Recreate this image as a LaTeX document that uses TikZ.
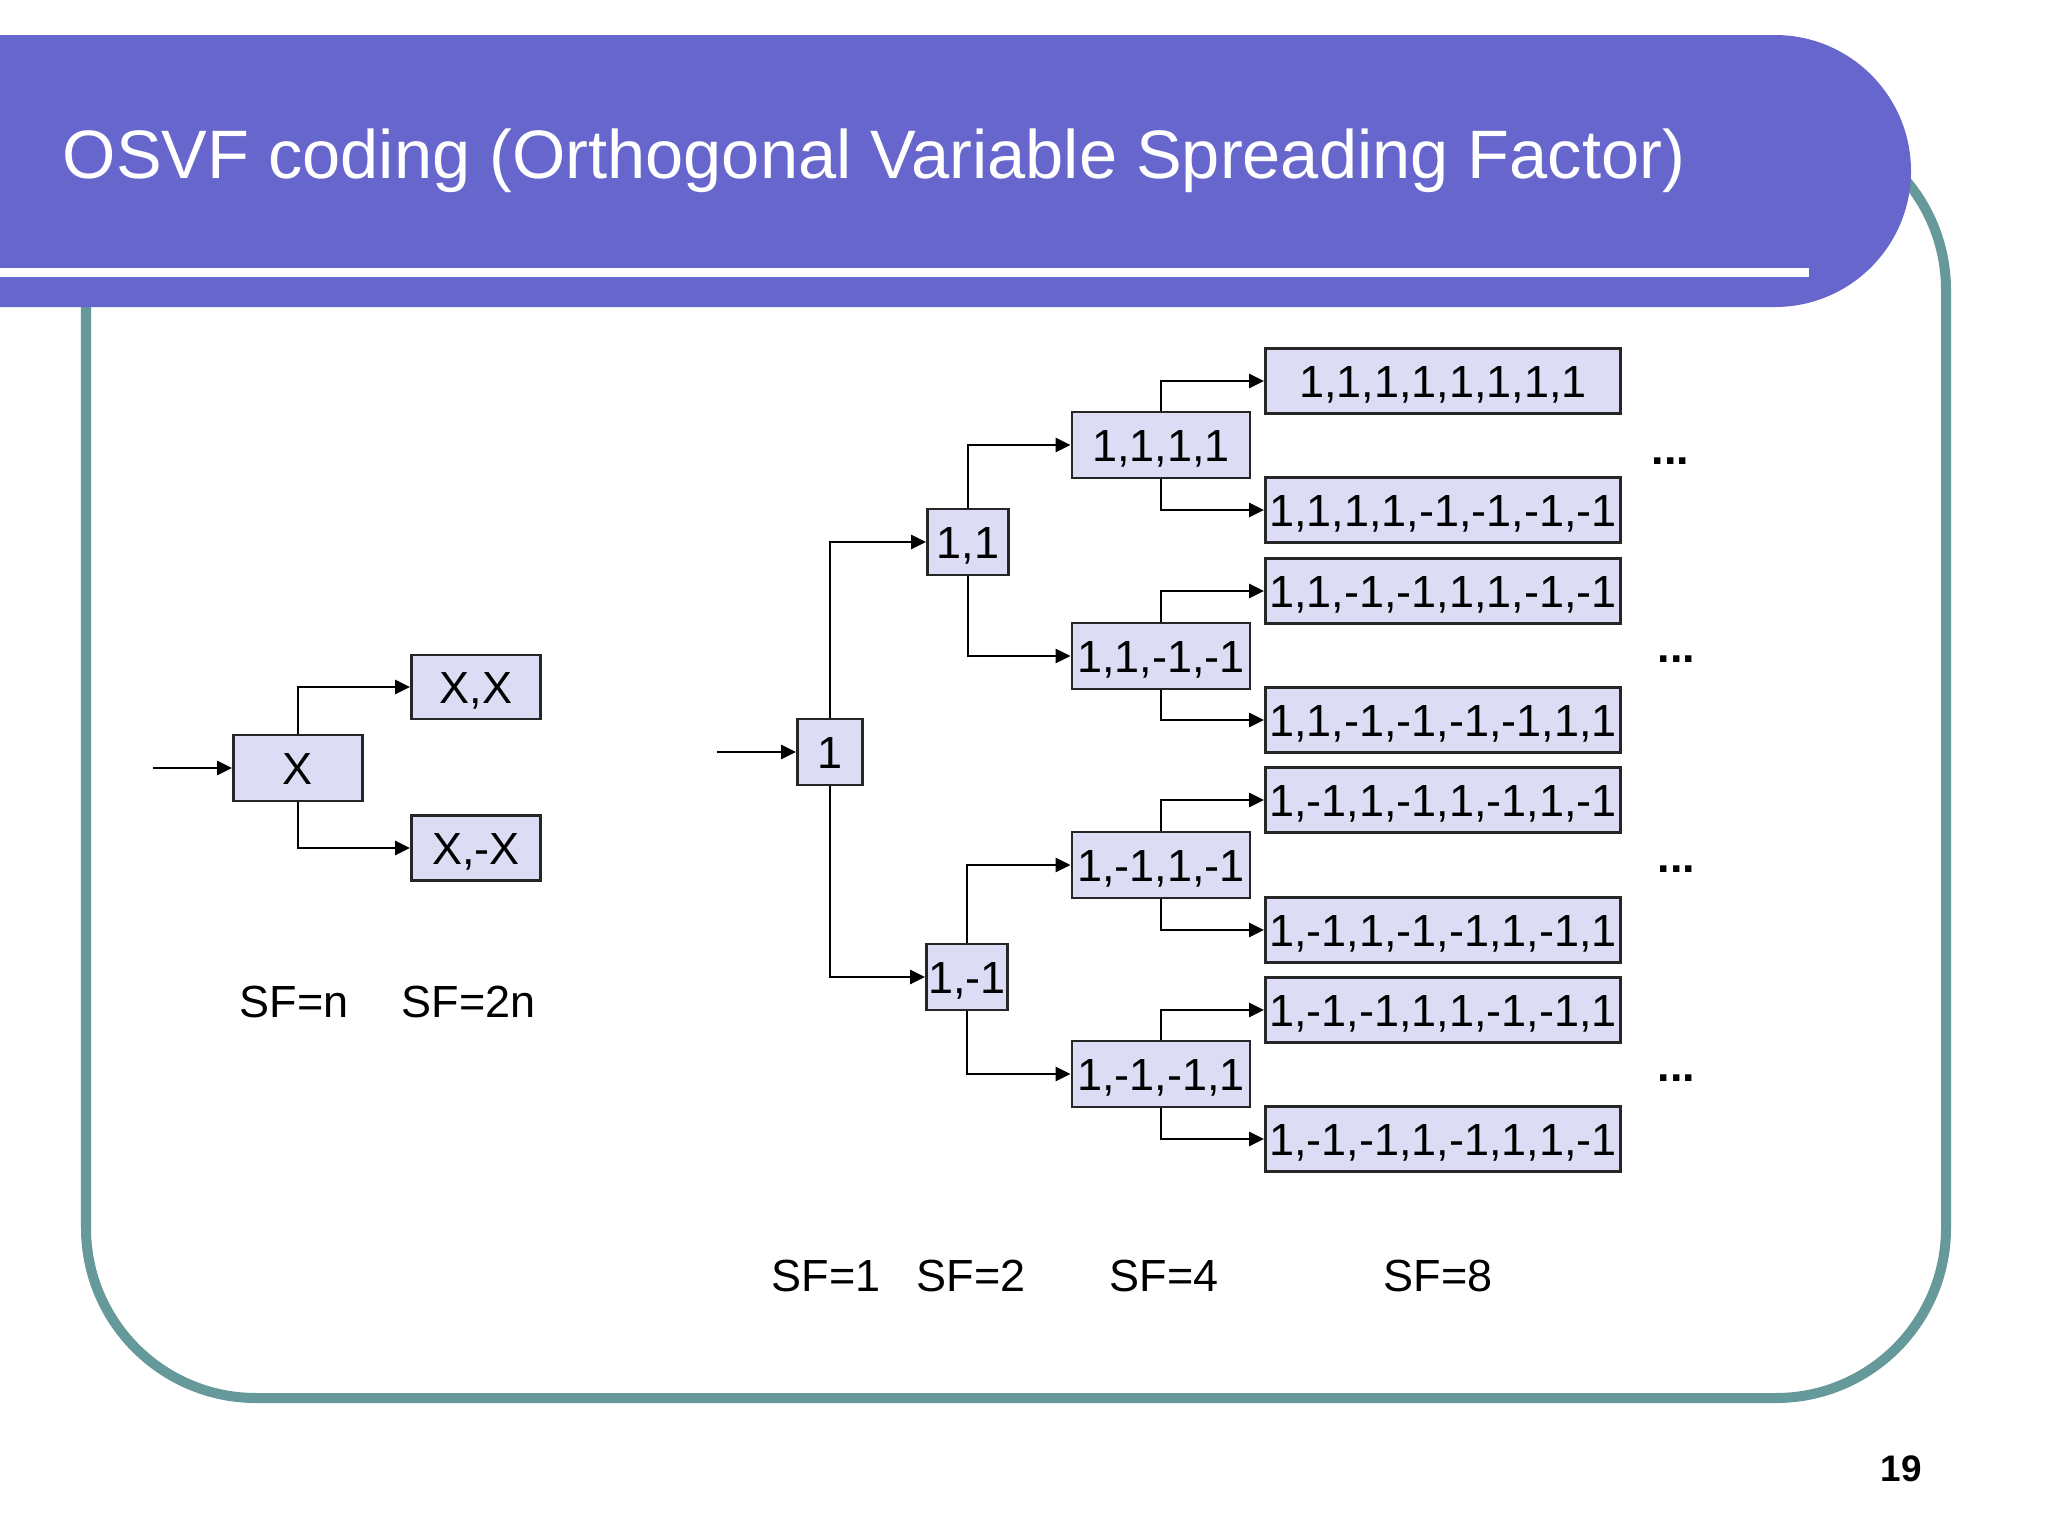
\documentclass[tikz,border=0pt]{standalone}
\usepackage{fontspec}
\setmainfont{Liberation Sans}
\usetikzlibrary{arrows.meta}
\definecolor{titlebar}{RGB}{102,102,204}
\definecolor{framegreen}{RGB}{102,153,153}
\definecolor{boxfill}{RGB}{220,220,245}
\tikzset{
  codebox/.style={draw=black!85, fill=boxfill, line width=0.028cm, inner sep=0pt,
    minimum height=0.66cm, text height=0.32cm, text depth=0cm,
    font=\fontsize{12.8}{15}\selectfont},
  sfone/.style={codebox, minimum width=0.65cm},
  sftwo/.style={codebox, minimum width=0.81cm},
  sffour/.style={codebox, minimum width=1.78cm},
  sfeight/.style={codebox, minimum width=3.55cm, minimum height=0.65cm},
  genbox/.style={codebox, minimum width=1.29cm},
  branch/.style={-{Triangle[length=0.15cm,width=0.14cm]}, line width=0.028cm},
  sflabel/.style={anchor=base west, inner sep=0pt, font=\fontsize{12.8}{15}\selectfont},
  more/.style={anchor=base west, inner sep=0pt, font=\fontsize{12.8}{15}\selectfont\bfseries}
}
\begin{document}
\begin{tikzpicture}[x=0.01cm, y=-0.01cm]
        \useasboundingbox (0,0) rectangle (2048,1536);
        \clip (0,0) rectangle (2048,1536);
        \fill[white] (0,0) rectangle (2048,1536);
        % Slide frame and title bar
        \draw[framegreen, line width=0.1cm, rounded corners=1.7cm] (86,120) rectangle (1946,1398);
        \fill[titlebar, rounded corners=1.36cm] (-300,35) rectangle (1911,307);
        \fill[white] (0,268) rectangle (1809,277);
        \node[anchor=base west, inner sep=0pt, text=white, font=\fontsize{19.5}{23}\selectfont]
            (title) at (62,178) {OSVF coding (Orthogonal Variable Spreading Factor)};
        % Generic rule X -> (X,X) and (X,-X)
        \coordinate (inx) at (153,768);
        \node[genbox] (x) at (298,768) {X};
        \node[genbox, minimum height=0.64cm] (xx) at (476,687) {X,X};
        \node[genbox, minimum height=0.65cm] (xmx) at (476,848) {X,-X};
        \draw[branch] (inx) -- (x.west);
        \draw[branch] (x.north) |- (xx.west);
        \draw[branch] (x.south) |- (xmx.west);
        \node[sflabel] (sfn) at (239,1017) {SF=n};
        \node[sflabel] (sftwon) at (401,1017) {SF=2n};
        % Code tree
        \coordinate (inroot) at (717,752);
        \node[sfone] (c1) at (830,752) {1};
        \node[sftwo] (c11) at (968,542) {1,1};
        \node[sftwo] (c1m) at (967,977) {1,-1};
        \node[sffour] (c1111) at (1161,445) {1,1,1,1};
        \node[sffour] (c11mm) at (1161,656) {1,1,-1,-1};
        \node[sffour] (c1m1m) at (1161,865) {1,-1,1,-1};
        \node[sffour] (c1mm1) at (1161,1074) {1,-1,-1,1};
        \node[sfeight] (e1) at (1443,381) {1,1,1,1,1,1,1,1};
        \node[sfeight] (e2) at (1443,510) {1,1,1,1,-1,-1,-1,-1};
        \node[sfeight] (e3) at (1443,591) {1,1,-1,-1,1,1,-1,-1};
        \node[sfeight] (e4) at (1443,720) {1,1,-1,-1,-1,-1,1,1};
        \node[sfeight] (e5) at (1443,800) {1,-1,1,-1,1,-1,1,-1};
        \node[sfeight] (e6) at (1443,930) {1,-1,1,-1,-1,1,-1,1};
        \node[sfeight] (e7) at (1443,1010) {1,-1,-1,1,1,-1,-1,1};
        \node[sfeight] (e8) at (1443,1139) {1,-1,-1,1,-1,1,1,-1};
        \draw[branch] (inroot) -- (c1.west);
        \draw[branch] (c1.north) |- (c11.west);
        \draw[branch] (c1.south) |- (c1m.west);
        \draw[branch] (c11.north) |- (c1111.west);
        \draw[branch] (c11.south) |- (c11mm.west);
        \draw[branch] (c1m.north) |- (c1m1m.west);
        \draw[branch] (c1m.south) |- (c1mm1.west);
        \draw[branch] (c1111.north) |- (e1.west);
        \draw[branch] (c1111.south) |- (e2.west);
        \draw[branch] (c11mm.north) |- (e3.west);
        \draw[branch] (c11mm.south) |- (e4.west);
        \draw[branch] (c1m1m.north) |- (e5.west);
        \draw[branch] (c1m1m.south) |- (e6.west);
        \draw[branch] (c1mm1.north) |- (e7.west);
        \draw[branch] (c1mm1.south) |- (e8.west);
        % Dots for longer codes
        \node[more] (dots1) at (1651,464) {...};
        \node[more] (dots2) at (1657,662) {...};
        \node[more] (dots3) at (1657,872) {...};
        \node[more] (dots4) at (1657,1081) {...};
        % Spreading factors
        \node[sflabel] (sf1) at (771,1291) {SF=1};
        \node[sflabel] (sf2) at (916,1291) {SF=2};
        \node[sflabel] (sf4) at (1109,1291) {SF=4};
        \node[sflabel] (sf8) at (1383,1291) {SF=8};
        % Slide number
        \node[anchor=base west, inner sep=0pt, font=\fontsize{10.5}{12}\selectfont\bfseries] (pagenum) at (1880,1481) {19};
    \end{tikzpicture}
\end{document}
